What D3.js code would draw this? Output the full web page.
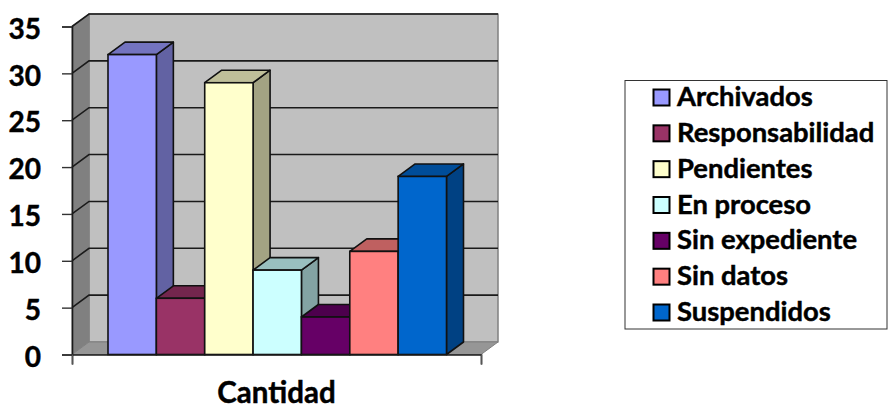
<!DOCTYPE html>
<html>
<head>
<meta charset="utf-8">
<script src="https://cdn.jsdelivr.net/npm/d3@7"></script>
<style>
html, body { margin: 0; padding: 0; background: #fff; }
svg { display: block; }
text { font-family: Lato, "Open Sans", sans-serif; font-weight: 700; fill: #000; stroke: #000; stroke-width: 0.45px; }
</style>
</head>
<body>
<div id="chart"></div>
<script>
var categories = ['Archivados', 'Responsabilidad', 'Pendientes', 'En proceso', 'Sin expediente', 'Sin datos', 'Suspendidos'],
	values = [32, 6, 29, 9, 4, 11, 19],
	colors = ['#9999ff', '#993366', '#ffffcc', '#ccffff', '#660066', '#ff8080', '#0066cc'],
	yTicks = [0, 5, 10, 15, 20, 25, 30, 35],
	axisTitle = 'Cantidad';

var w = 888,
	h = 405,
	dx = 17,     // depth of the 3d box
	dy = -12.5,
	left = 72,
	right = 481,
	bottom = 354.5,
	top_ = 26.5;

var svg = d3.select('#chart').append('svg')
	.attr('width', w)
	.attr('height', h);

var y = d3.scaleLinear().domain([0, 35]).range([bottom, top_]);
var x = d3.scaleBand().domain(categories).range([108, 446.5]).padding(0);

function poly(pts, fill, stroke, sw) {
	return svg.append('polygon')
		.attr('points', pts.map(function(p) { return p.join(','); }).join(' '))
		.attr('fill', fill)
		.attr('stroke', stroke || 'none')
		.attr('stroke-width', sw || 0)
		.attr('stroke-linejoin', 'round');
}

// back wall, side wall, floor
poly([[left + dx, top_ + dy], [right + dx, top_ + dy], [right + dx, bottom + dy], [left + dx, bottom + dy]], '#c0c0c0', '#808080', 1.5);
poly([[left, top_], [left + dx, top_ + dy], [left + dx, bottom + dy], [left, bottom]], '#808080', '#808080', 1);
poly([[left, bottom], [left + dx, bottom + dy], [right + dx, bottom + dy], [right, bottom]], '#969696', '#808080', 1);

// grid lines
yTicks.slice(1).forEach(function(t) {
	svg.append('path')
		.attr('d', 'M' + left + ',' + y(t) + 'L' + (left + dx) + ',' + (y(t) + dy) + 'L' + (right + dx) + ',' + (y(t) + dy))
		.attr('fill', 'none')
		.attr('stroke', '#1a1a1a')
		.attr('stroke-width', 1.6);
});

// bars, left to right so each front covers the side of the one before
categories.forEach(function(c, i) {
	var x0 = x(c),
		x1 = x0 + x.bandwidth(),
		y1 = y(values[i]),
		col = d3.color(colors[i]),
		stroke = '#111',
		topCol = d3.rgb(col.r * 0.75, col.g * 0.75, col.b * 0.75),
		sideCol = d3.rgb(col.r * 0.64, col.g * 0.64, col.b * 0.64);
	poly([[x1, y1], [x1 + dx, y1 + dy], [x1 + dx, bottom + dy], [x1, bottom]], sideCol, stroke, 1.6);
	poly([[x0, y1], [x0 + dx, y1 + dy], [x1 + dx, y1 + dy], [x1, y1]], topCol, stroke, 1.6);
	svg.append('rect')
		.attr('x', x0)
		.attr('y', y1)
		.attr('width', x.bandwidth())
		.attr('height', bottom - y1)
		.attr('fill', col)
		.attr('stroke', stroke)
		.attr('stroke-width', 1.6);
});

// y axis
var yAxis = svg.append('g')
	.attr('transform', 'translate(' + left + ',0)')
	.call(d3.axisLeft(y).tickValues(yTicks).tickSize(10).tickPadding(21));
yAxis.select('.domain').attr('stroke', '#1a1a1a').attr('stroke-width', 1.6);
yAxis.selectAll('.tick line').attr('stroke', '#333').attr('stroke-width', 1.4);
yAxis.selectAll('text')
	.attr('dy', '0.42em')
	.style('font-size', '28px')
	.style('font-family', 'Lato')
	.style('font-weight', 700);

// x axis: one group, ticks only at both ends
var xEnds = d3.scaleLinear().domain([0, 1]).range([left, right]);
var xAxis = svg.append('g')
	.attr('transform', 'translate(0,' + bottom + ')')
	.call(d3.axisBottom(xEnds).tickValues([0, 1]).tickSize(10).tickFormat(''));
xAxis.select('.domain').attr('stroke', '#1a1a1a').attr('stroke-width', 1.6);
xAxis.selectAll('.tick line').attr('stroke', '#555').attr('stroke-width', 1.4);

svg.append('text')
	.attr('x', 276.5)
	.attr('y', 403)
	.attr('text-anchor', 'middle')
	.style('font-size', '29.5px')
	.text(axisTitle);

// legend
svg.append('rect')
	.attr('x', 625)
	.attr('y', 80.5)
	.attr('width', 262)
	.attr('height', 248.5)
	.attr('fill', '#fff')
	.attr('stroke', '#333')
	.attr('stroke-width', 1);

var ly = d3.scalePoint().domain(categories).range([97, 312]);

var item = svg.selectAll('.item')
	.data(categories)
	.enter().append('g')
	.attr('class', 'item')
	.attr('transform', function(d) { return 'translate(653,' + ly(d) + ')'; });

item.append('rect')
	.attr('x', 0.5)
	.attr('y', -7.5)
	.attr('width', 16)
	.attr('height', 16)
	.attr('fill', function(d, i) { return colors[i]; })
	.attr('stroke', '#000')
	.attr('stroke-width', 2);

item.append('text')
	.attr('x', 24)
	.attr('y', 9)
	.style('font-size', '27.4px')
	.text(function(d) { return d; });
</script>
</body>
</html>
